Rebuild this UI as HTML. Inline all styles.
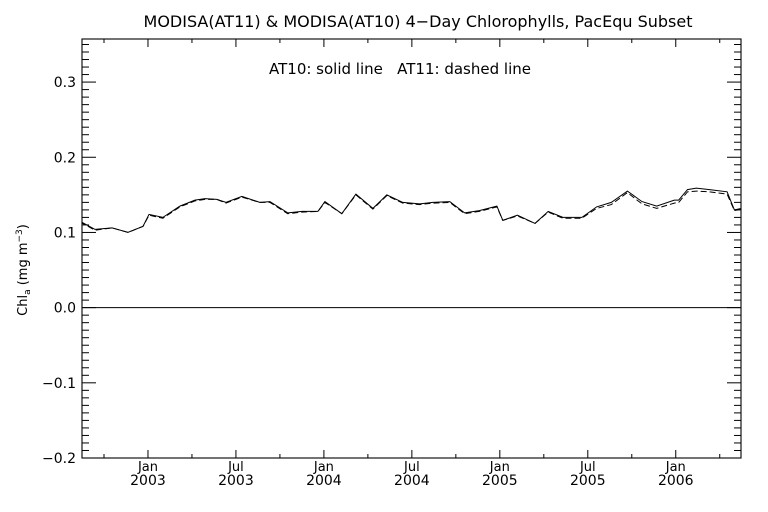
<!DOCTYPE html>
<html><head><meta charset="utf-8"><style>
body{margin:0;background:#fff;}
svg{display:block;font-family:"DejaVu Sans","Liberation Sans",sans-serif;}
text{fill:#000;}
</style></head><body>
<svg id="chart" width="768" height="512" viewBox="0 0 768 512">
<text x="418" y="27" text-anchor="middle" font-size="16">MODISA(AT11) &amp; MODISA(AT10) 4−Day Chlorophylls, PacEqu Subset</text>
<text x="400" y="74" text-anchor="middle" font-size="15" xml:space="preserve">AT10: solid line   AT11: dashed line</text>
<text transform="translate(27,270) rotate(-90)" text-anchor="middle" font-size="13">Chl<tspan font-size="9" dy="3">a</tspan><tspan dy="-3"> (mg m</tspan><tspan font-size="9" dy="-5">−3</tspan><tspan dy="5">)</tspan></text>
<defs><clipPath id="pc"><rect x="82" y="39" width="659" height="419"/></clipPath></defs>
<g id="axes"></g>
<g id="series" clip-path="url(#pc)"></g>
</svg>
<script>
const months = [-4.64,-3.61,-2.45,-1.36,-0.34,0.07,1.02,2.18,3.2,3.89,4.7,5.32,6.41,7.63,8.32,9.54,10.5,11.59,12.07,13.22,14.18,15.34,16.29,17.38,18.54,19.43,20.59,21.6,22.6,23.8,24.2,25.2,26.4,27.3,28.3,29.6,30.6,31.6,32.7,33.7,34.7,35.9,36.2,36.8,37.4,38.3,39.5,40.0,40.5];
const at10 = [0.115,0.104,0.106,0.100,0.108,0.124,0.120,0.135,0.143,0.145,0.144,0.140,0.148,0.140,0.141,0.126,0.128,0.128,0.141,0.125,0.151,0.132,0.150,0.140,0.138,0.140,0.141,0.126,0.129,0.135,0.116,0.123,0.112,0.128,0.120,0.120,0.134,0.140,0.155,0.141,0.135,0.143,0.143,0.157,0.159,0.157,0.154,0.130,0.132];
const at11 = [0.114,0.103,0.106,0.100,0.108,0.123,0.119,0.134,0.142,0.144,0.144,0.139,0.147,0.140,0.140,0.125,0.127,0.128,0.140,0.125,0.150,0.131,0.149,0.139,0.137,0.139,0.140,0.125,0.128,0.134,0.116,0.122,0.112,0.127,0.119,0.119,0.132,0.137,0.153,0.138,0.132,0.139,0.140,0.154,0.155,0.154,0.151,0.129,0.131];
const yTicks = [-0.2,-0.1,0.0,0.1,0.2,0.3];
const yTickLabels = ["−0.2","−0.1","0.0","0.1","0.2","0.3"];
const xMajor = [0,6,12,18,24,30,36];
const xMonthLabels = ["Jan","Jul","Jan","Jul","Jan","Jul","Jan"];
const xYearLabels = ["2003","2003","2004","2004","2005","2005","2006"];

const L=82,R=741,T=39,B=458, X0=-4.5,X1=40.45, Y0=-0.2,Y1=0.3573;
const sx=m=>L+(m-X0)/(X1-X0)*(R-L);
const sy=v=>B-(v-Y0)/(Y1-Y0)*(B-T);
const NS="http://www.w3.org/2000/svg";
const ax=document.getElementById('axes'), se=document.getElementById('series');
function mk(tag,attrs,parent){const e=document.createElementNS(NS,tag);for(const k in attrs)e.setAttribute(k,attrs[k]);parent.appendChild(e);return e;}
const frame=mk('rect',{x:L,y:T,width:R-L,height:B-T,fill:'none',stroke:'#000','stroke-width':1.1},ax);


const zl=mk('line',{x1:L,x2:R,y1:sy(0),y2:sy(0),stroke:'#000','stroke-width':1.1},ax);


for(let i=-20;i<=35;i++){const v=i/100,y=sy(v),maj=i%10===0,len=maj?14:7;
 const a=mk('line',{x1:L,x2:L+len,y1:y,y2:y,stroke:'#000'},ax);
 
 
 const b=mk('line',{x1:R,x2:R-len,y1:y,y2:y,stroke:'#000'},ax);
 
 }
yTicks.forEach((v,i)=>{const t=mk('text',{x:L-6,y:sy(v)+5,'text-anchor':'end','font-size':14},ax);t.textContent=yTickLabels[i];
 
 });
for(let m=-3;m<=39;m+=3){const x=sx(m),maj=m%6===0,len=maj?8:4;
 const a=mk('line',{x1:x,x2:x,y1:B,y2:B-len,stroke:'#000'},ax);
 
 
 const b=mk('line',{x1:x,x2:x,y1:T,y2:T+len,stroke:'#000'},ax);
 
 }
xMajor.forEach((m,i)=>{const x=sx(m);
 const a=mk('text',{x:x,y:471,'text-anchor':'middle','font-size':13},ax);a.textContent=xMonthLabels[i];
 
 
 const b=mk('text',{x:x,y:485,'text-anchor':'middle','font-size':14},ax);b.textContent=xYearLabels[i];
 
 });
function path(vals){return vals.map((v,i)=>(i?'L':'M')+sx(months[i]).toFixed(1)+','+sy(v).toFixed(1)).join(' ');}
const p11=mk('path',{d:path(at11),fill:'none',stroke:'#000','stroke-width':1,'stroke-dasharray':'6,3'},se);


const p10=mk('path',{d:path(at10),fill:'none',stroke:'#000','stroke-width':1},se);


</script>
</body></html>
